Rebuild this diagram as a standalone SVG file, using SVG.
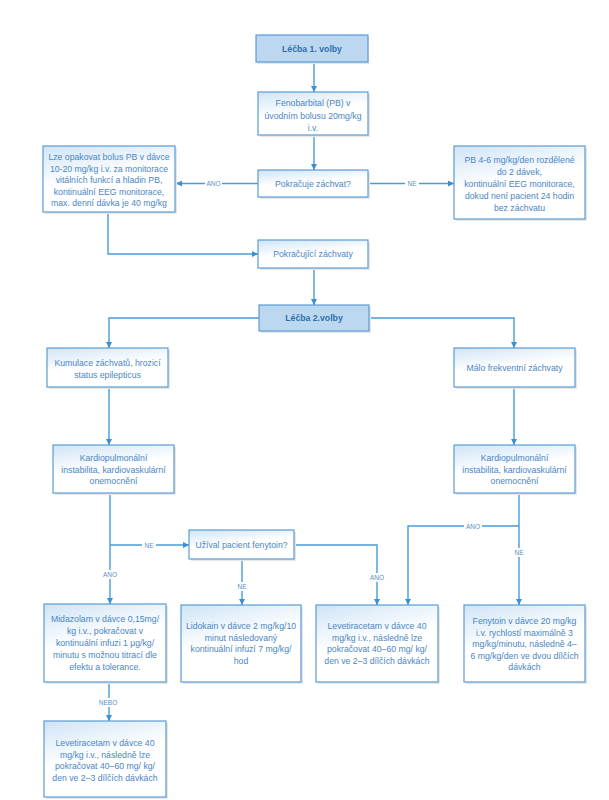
<svg xmlns="http://www.w3.org/2000/svg" width="609" height="800" viewBox="0 0 609 800">
<defs>
<linearGradient id="g" x1="0" y1="0" x2="0.35" y2="1">
<stop offset="0" stop-color="#cfe4f6"/>
<stop offset="0.55" stop-color="#ffffff"/>
<stop offset="1" stop-color="#ffffff"/>
</linearGradient>
<marker id="ar" viewBox="0 0 10 10" refX="10" refY="5" markerWidth="6" markerHeight="6" orient="auto" markerUnits="userSpaceOnUse">
<path d="M0,0 L10,5 L0,10 z" fill="#3d8fd0"/>
</marker>
<style>
.b{fill:url(#g);stroke:#5b9bd5;stroke-width:1.2}
.h{fill:#bcd8f0;stroke:#5b9bd5;stroke-width:1.2}
.s{fill:#e6e6e6}
text{font-family:"Liberation Sans",Arial,sans-serif;font-size:8.7px;fill:#4a86c4;text-anchor:middle}
.ht{font-weight:bold;font-size:8.7px;fill:#2f6ead}
.c{fill:none;stroke:#4a9bd6;stroke-width:1.4}
.ca{fill:none;stroke:#4a9bd6;stroke-width:1.4;marker-end:url(#ar)}
.lb{fill:#ffffff}
.l{font-size:6.5px;fill:#5a8fc4}
</style>
</defs>
<rect width="609" height="800" fill="#ffffff"/>

<g id="connectors">
<path class="ca" d="M314,62 V92"/>
<path class="ca" d="M314,135 V170"/>
<path class="ca" d="M258,183.5 H176"/>
<path class="ca" d="M368,183.5 H454"/>
<path class="ca" d="M108,213 V254 H258"/>
<path class="ca" d="M314,268 V305"/>
<path class="ca" d="M259,318 H109 V348"/>
<path class="ca" d="M369,318 H514 V348"/>
<path class="ca" d="M109,387 V445"/>
<path class="ca" d="M514,387 V445"/>
<path class="ca" d="M110,493 V604"/>
<path class="ca" d="M110,545 H189"/>
<path class="ca" d="M294,545 H377 V605"/>
<path class="ca" d="M242,559 V605"/>
<path class="ca" d="M519,493 V605"/>
<path class="ca" d="M519,526 H408 V605"/>
<path class="ca" d="M109,682 V721"/>
<g id="labels">
<rect class="lb" x="205" y="179" width="17" height="9"/><text class="l" x="213.5" y="186">ANO</text>
<rect class="lb" x="405" y="179" width="14" height="9"/><text class="l" x="412" y="186">NE</text>
<rect class="lb" x="142" y="541" width="14" height="9"/><text class="l" x="149" y="548">NE</text>
<rect class="lb" x="101" y="570" width="18" height="9"/><text class="l" x="110" y="577">ANO</text>
<rect class="lb" x="368" y="573" width="18" height="9"/><text class="l" x="377" y="580">ANO</text>
<rect class="lb" x="235" y="582" width="14" height="9"/><text class="l" x="242" y="589">NE</text>
<rect class="lb" x="464" y="522" width="18" height="9"/><text class="l" x="473" y="529">ANO</text>
<rect class="lb" x="512" y="548" width="14" height="9"/><text class="l" x="519" y="555">NE</text>
<rect class="lb" x="97" y="698" width="22" height="9"/><text class="l" x="108" y="705">NEBO</text>
</g>
</g>

<g id="n1"><rect class="s" x="257" y="37" width="112" height="27"/><rect class="h" x="256" y="35" width="112" height="27"/><text class="ht" x="312" y="51.5">Léčba 1. volby</text></g>

<g id="n2"><rect class="s" x="260" y="94" width="110" height="43"/><rect class="b" x="258" y="92" width="110" height="43"/>
<text x="313" y="106">Fenobarbital (PB) v</text><text x="313" y="119">úvodním bolusu 20mg/kg</text><text x="313" y="131">i.v.</text></g>

<g id="n3"><rect class="s" x="260" y="172" width="110" height="27"/><rect class="b" x="258" y="170" width="110" height="27"/><text x="313" y="186.5">Pokračuje záchvat?</text></g>

<g id="n4"><rect class="s" x="45" y="148" width="132" height="66"/><rect class="b" x="43" y="146" width="132" height="66"/>
<text x="109" y="160">Lze opakovat bolus PB v dávce</text>
<text x="109" y="171.5">10-20 mg/kg i.v. za monitorace</text>
<text x="109" y="183">vitálních funkcí a hladin PB,</text>
<text x="109" y="194.5">kontinuální EEG monitorace,</text>
<text x="109" y="206">max. denní dávka je 40 mg/kg</text></g>

<g id="n5"><rect class="s" x="456" y="148" width="131" height="73"/><rect class="b" x="454" y="146" width="131" height="73"/>
<text x="519.5" y="163">PB 4-6 mg/kg/den rozdělené</text>
<text x="519.5" y="175">do 2 dávek,</text>
<text x="519.5" y="187">kontinuální EEG monitorace,</text>
<text x="519.5" y="199">dokud není pacient 24 hodin</text>
<text x="519.5" y="211">bez záchvatu</text></g>

<g id="n6"><rect class="s" x="260" y="242" width="110" height="28"/><rect class="b" x="258" y="240" width="110" height="28"/><text x="313" y="257">Pokračující záchvaty</text></g>

<g id="n7"><rect class="s" x="261" y="307" width="110" height="26"/><rect class="h" x="259" y="305" width="110" height="26"/><text class="ht" x="314" y="321">Léčba 2.volby</text></g>

<g id="n8"><rect class="s" x="49" y="350" width="121" height="39"/><rect class="b" x="47" y="348" width="121" height="39"/>
<text x="107.5" y="366">Kumulace záchvatů, hrozicí</text><text x="107.5" y="377.5">status epilepticus</text></g>

<g id="n9"><rect class="s" x="456" y="350" width="121" height="39"/><rect class="b" x="454" y="348" width="121" height="39"/>
<text x="514.5" y="371">Málo frekventní záchvaty</text></g>

<g id="n10"><rect class="s" x="55" y="447" width="121" height="48"/><rect class="b" x="53" y="445" width="121" height="48"/>
<text x="113.5" y="461">Kardiopulmonální</text><text x="113.5" y="472.5">instabilita, kardiovaskulární</text><text x="113.5" y="484">onemocnění</text></g>

<g id="n11"><rect class="s" x="456" y="447" width="121" height="48"/><rect class="b" x="454" y="445" width="121" height="48"/>
<text x="514.5" y="461">Kardiopulmonální</text><text x="514.5" y="472.5">instabilita, kardiovaskulární</text><text x="514.5" y="484">onemocnění</text></g>

<g id="n12"><rect class="s" x="191" y="532" width="105" height="29"/><rect class="b" x="189" y="530" width="105" height="29"/><text x="241.5" y="548">Užíval pacient fenytoin?</text></g>

<g id="n13"><rect class="s" x="46" y="606" width="122" height="78"/><rect class="b" x="44" y="604" width="122" height="78"/>
<text x="105" y="622">Midazolam v dávce 0,15mg/</text>
<text x="105" y="634">kg i.v., pokračovat v</text>
<text x="105" y="646">kontinuální infuzi 1 μg/kg/</text>
<text x="105" y="658">minutu s možnou titrací dle</text>
<text x="105" y="670">efektu a tolerance.</text></g>

<g id="n14"><rect class="s" x="183" y="607" width="120" height="77"/><rect class="b" x="181" y="605" width="120" height="77"/>
<text x="241" y="629">Lidokain v dávce 2 mg/kg/10</text>
<text x="241" y="640.5">minut následovaný</text>
<text x="241" y="652">kontinuální infuzí 7 mg/kg/</text>
<text x="241" y="663.5">hod</text></g>

<g id="n15"><rect class="s" x="318" y="607" width="122" height="77"/><rect class="b" x="316" y="605" width="122" height="77"/>
<text x="377" y="629">Levetiracetam v dávce 40</text>
<text x="377" y="640.5">mg/kg i.v., následně lze</text>
<text x="377" y="652">pokračovat 40–60 mg/ kg/</text>
<text x="377" y="663.5">den ve 2–3 dílčích dávkách</text></g>

<g id="n16"><rect class="s" x="466" y="607" width="121" height="77"/><rect class="b" x="464" y="605" width="121" height="77"/>
<text x="524.5" y="624">Fenytoin v dávce 20 mg/kg</text>
<text x="524.5" y="635.5">i.v.  rychlostí maximálně 3</text>
<text x="524.5" y="647">mg/kg/minutu, následně 4–</text>
<text x="524.5" y="658.5">6 mg/kg/den ve dvou dílčích</text>
<text x="524.5" y="670">dávkách</text></g>

<g id="n17"><rect class="s" x="46" y="723" width="122" height="76"/><rect class="b" x="44" y="721" width="122" height="76"/>
<text x="105" y="746">Levetiracetam  v dávce 40</text>
<text x="105" y="757.5">mg/kg i.v., následně lze</text>
<text x="105" y="769">pokračovat 40–60 mg/ kg/</text>
<text x="105" y="780.5">den ve 2–3 dílčích dávkách</text></g>
</svg>
